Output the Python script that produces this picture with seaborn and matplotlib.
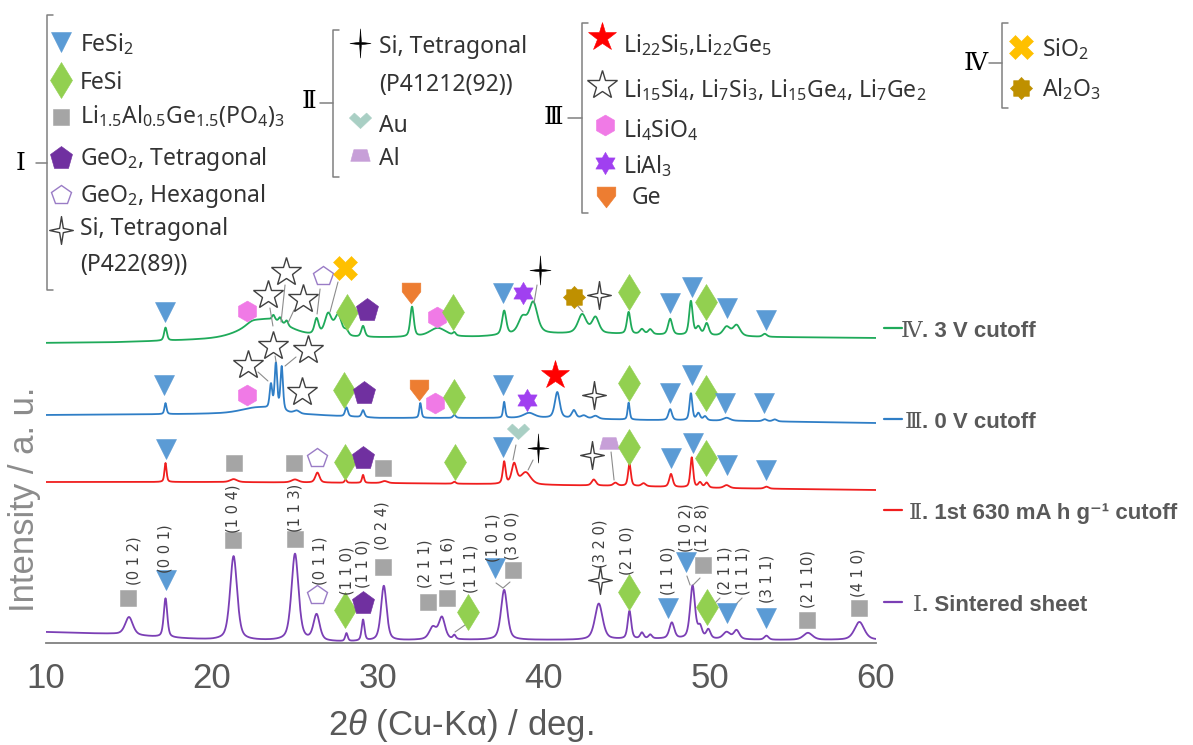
import numpy as np
import pandas as pd
import matplotlib
matplotlib.use("Agg")
import matplotlib.pyplot as plt
from matplotlib.path import Path
import seaborn as sns

# ---------------------------------------------------------------------------
# XRD patterns: peak tables (2θ / deg, height / a.u., FWHM / deg) and
# background knots (2θ / deg, level / a.u.)
# ---------------------------------------------------------------------------
sample_names = ["I", "II", "III", "IV"]

# I. sintered sheet
sintered_peak_pos = [15.0, 17.2, 21.3, 25.0, 26.3, 28.1, 29.1, 30.35, 33.3, 33.85, 34.6, 37.6,
                     43.3, 45.15, 45.9, 46.4, 47.7, 48.95, 49.4, 49.9, 51.0, 51.6, 53.4, 55.9, 59.0]
sintered_peak_height = [18, 39, 84, 87, 26, 8, 21, 55, 12, 22, 4, 50,
                        36, 28, 6, 4, 16, 53, 11, 9, 7, 9, 4, 7, 18]
sintered_peak_fwhm = [0.55, 0.25, 0.5, 0.5, 0.45, 0.18, 0.2, 0.4, 0.5, 0.45, 0.2, 0.45,
                      0.55, 0.25, 0.25, 0.25, 0.35, 0.35, 0.3, 0.3, 0.5, 0.4, 0.3, 0.65, 0.7]
sintered_bg_pos = [10, 14, 17, 20, 28, 33, 37, 42, 47, 54, 60]
sintered_bg_level = [11, 9, 5.5, 3, 1, 3, 3, 3, 4, 3, 3]

# II. 1st discharge to 630 mA h g-1
partial_peak_pos = [17.2, 21.3, 25.0, 26.35, 28.05, 29.1, 30.4, 34.6, 37.6, 38.2, 38.9, 43.0,
                    44.3, 45.15, 46.0, 47.65, 48.9, 49.4, 49.8, 51.0, 53.4]
partial_peak_height = [19, 3, 3, 10, 3, 8, 2, 2, 22, 20, 12, 6,
                       3, 22, 3, 13, 30, 5, 5, 3, 2]
partial_peak_fwhm = [0.15, 0.5, 0.5, 0.3, 0.15, 0.15, 0.4, 0.2, 0.2, 0.35, 0.7, 0.3,
                     0.3, 0.2, 0.3, 0.25, 0.2, 0.25, 0.25, 0.4, 0.3]
partial_bg_pos = [10, 20, 30, 36, 40, 45, 50, 55, 60]
partial_bg_level = [8, 8, 7, 6, 5, 4, 2, 1, 0]

# III. discharged to 0 V
lithiated_peak_pos = [17.2, 22.8, 23.55, 23.85, 24.2, 25.1, 28.1, 29.1, 32.55, 34.6, 37.6, 39.1,
                      40.8, 41.8, 42.4, 43.1, 45.1, 47.6, 48.85, 49.3, 49.7, 51.0, 53.3, 53.9]
lithiated_peak_height = [11, 7, 24, 46, 44, 3, 9, 7, 15, 3, 16, 5,
                         26, 8, 3, 3, 17, 11, 27, 7, 4, 3, 2, 2]
lithiated_peak_fwhm = [0.15, 2.5, 0.18, 0.18, 0.18, 0.4, 0.2, 0.2, 0.15, 0.2, 0.15, 0.8,
                       0.35, 0.3, 0.4, 0.4, 0.15, 0.25, 0.2, 0.25, 0.25, 0.5, 0.3, 0.3]
lithiated_bg_pos = [10, 20, 26, 30, 40, 46, 52, 60]
lithiated_bg_level = [8, 9, 8, 5, 5, 3, 2, 0]

# IV. charged to 3 V
charged_peak_pos = [17.2, 22.4, 23.3, 23.7, 24.1, 24.5, 26.3, 27.0, 27.6, 28.1, 29.1, 32.05,
                    33.6, 34.6, 37.6, 38.7, 39.35, 42.3, 43.1, 45.1, 45.9, 46.4, 47.6, 48.85,
                    49.3, 49.8, 51.0, 51.6, 53.3]
charged_peak_height = [13, 3, 20, 5, 5, 5, 16, 22, 21, 5, 11, 30,
                       9, 3, 24, 16, 31, 19, 16, 22, 5, 5, 16, 34,
                       8, 12, 9, 11, 3]
charged_peak_fwhm = [0.2, 0.8, 3.2, 0.2, 0.2, 0.2, 0.3, 0.5, 0.5, 0.3, 0.25, 0.25,
                     1.2, 0.2, 0.3, 0.6, 0.6, 0.6, 0.5, 0.25, 0.3, 0.3, 0.3, 0.25,
                     0.3, 0.3, 0.5, 0.5, 0.3]
charged_bg_pos = [10, 14, 19, 25, 30, 36, 40, 44, 47, 53, 60]
charged_bg_level = [0, 0.5, 2.5, 4, 5, 6, 9, 9, 8, 6, 5]

x_ticks = [10, 20, 30, 40, 50, 60]

trace_labels = ["Ⅰ", "Ⅱ", "Ⅲ", "Ⅳ"]
trace_texts = [". Sintered sheet", ". 1st 630 mA h g⁻¹ cutoff", ". 0 V cutoff", ". 3 V cutoff"]

# ---------------------------------------------------------------------------
# phase markers (phase, 2θ, intensity) for each pattern
# ---------------------------------------------------------------------------
marks_IV = [("FeSi2", 17.17, 331), ("Li4SiO4", 22.11, 332), ("LiSi", 23.37, 348),
            ("LiSi", 24.46, 371), ("LiSi", 25.48, 344), ("GeO2_hex", 26.69, 367),
            ("SiO2", 28.01, 375), ("FeSi", 28.13, 331), ("GeO2_tet", 29.34, 333),
            ("Ge", 31.99, 350), ("Li4SiO4", 33.55, 326), ("FeSi", 34.52, 331),
            ("FeSi2", 37.53, 350), ("LiAl3", 38.73, 350), ("Si_92", 39.76, 373),
            ("Al2O3", 41.81, 346), ("Si_89", 43.31, 348), ("FeSi", 45.12, 351),
            ("FeSi2", 47.59, 340), ("FeSi2", 48.92, 356), ("FeSi", 49.76, 341),
            ("FeSi2", 51.02, 335), ("FeSi2", 53.37, 323)]
leaders_IV = [((23.49, 335), (23.67, 317)), ((24.40, 358), (24.16, 321)),
              ((24.94, 333), (24.58, 320)), ((26.51, 354), (26.33, 329)),
              ((27.59, 361), (27.11, 331)), ((39.58, 358), (39.40, 340)),
              ((41.99, 338), (42.35, 331))]

marks_III = [("FeSi2", 17.11, 258), ("Li4SiO4", 22.11, 248), ("LiSi", 22.17, 278),
             ("LiSi", 23.67, 297), ("LiSi", 25.78, 293), ("LiSi", 25.42, 251),
             ("FeSi", 27.95, 253), ("GeO2_tet", 29.16, 250), ("Ge", 32.47, 253),
             ("Li4SiO4", 33.43, 240), ("FeSi", 34.58, 246), ("FeSi2", 37.53, 258),
             ("LiAl3", 38.98, 243), ("Li22", 40.66, 268), ("Si_89", 43.01, 248),
             ("FeSi", 45.12, 260), ("FeSi2", 47.59, 250), ("FeSi2", 48.92, 268),
             ("FeSi", 49.76, 250), ("FeSi2", 50.90, 240), ("FeSi2", 53.25, 240)]
leaders_III = [((22.77, 271), (23.37, 262)), ((23.80, 287), (23.86, 281)),
               ((25.06, 286), (24.40, 277))]

marks_II = [("FeSi2", 17.23, 194), ("LAGP", 21.33, 180), ("LAGP", 24.94, 180),
            ("GeO2_hex", 26.33, 185), ("FeSi", 28.01, 181), ("GeO2_tet", 29.10, 185),
            ("LAGP", 30.30, 175), ("FeSi", 34.64, 181), ("FeSi2", 37.53, 196),
            ("Au", 38.43, 210), ("Si_92", 39.64, 195), ("Si_89", 42.89, 188),
            ("Al", 43.92, 200), ("FeSi", 45.12, 196), ("FeSi2", 47.65, 185),
            ("FeSi2", 48.98, 200), ("FeSi", 49.76, 185), ("FeSi2", 51.02, 178),
            ("FeSi2", 53.37, 173)]
leaders_II = [((38.31, 198), (38.13, 183)), ((39.34, 183), (39.04, 173)),
              ((44.04, 191), (44.22, 163))]

marks_I = [("LAGP", 14.94, 45), ("FeSi2", 17.23, 63), ("LAGP", 21.27, 103),
           ("LAGP", 25.00, 104), ("GeO2_hex", 26.33, 48), ("FeSi", 28.01, 33),
           ("GeO2_tet", 29.10, 40), ("LAGP", 30.30, 76), ("LAGP", 33.01, 41),
           ("LAGP", 34.16, 45), ("FeSi", 35.42, 31), ("FeSi2", 37.05, 75),
           ("LAGP", 38.13, 73), ("Si_89", 43.37, 63), ("FeSi", 45.12, 51),
           ("FeSi2", 47.47, 35), ("FeSi2", 48.55, 81), ("LAGP", 49.58, 78),
           ("FeSi", 49.82, 36), ("FeSi2", 51.02, 30), ("FeSi2", 53.37, 25),
           ("LAGP", 55.84, 23), ("LAGP", 58.98, 35)]
hkl_I = [("(0 1 2)", 15.30, 58), ("(0 0 1)", 17.17, 70), ("(1 0 4)", 21.27, 110),
         ("(1 1 3)", 25.00, 111), ("(0 1 1)", 26.51, 58), ("(1 1 0)", 28.13, 48),
         ("(1 1 0)", 29.10, 55), ("(0 2 4)", 30.24, 93), ("(2 1 1)", 32.83, 55),
         ("(1 1 6)", 34.22, 58), ("(1 1 1)", 35.60, 50), ("(1 0 1)", 36.93, 81),
         ("(3 0 0)", 38.07, 83), ("(3 2 0)", 43.37, 75), ("(2 1 0)", 45.00, 68),
         ("(1 1 0)", 47.47, 48), ("(1 0 2)", 48.55, 91), ("(1 2 8)", 49.52, 91),
         ("(2 1 1)", 50.90, 48), ("(1 1 1)", 51.99, 48), ("(3 1 1)", 53.43, 40),
         ("(2 1 10)", 55.90, 35), ("(4 1 0)", 58.92, 46)]
leaders_I = [((35.24, 18), (34.64, 11)), ((37.11, 60), (37.53, 55)),
             ((37.95, 61), (37.53, 55)), ((48.61, 67), (48.80, 58)),
             ((49.40, 65), (48.98, 58)), ((50.60, 45), (50.12, 37)),
             ((51.93, 45), (51.39, 36))]


# ---------------------------------------------------------------------------
# helpers
# ---------------------------------------------------------------------------
def profile(grid, pos, height, fwhm, bg_pos, bg_level):
    """Pseudo-Voigt peaks on a piecewise background."""
    y = np.interp(grid, bg_pos, bg_level).astype(float)
    for c, h, w in zip(pos, height, fwhm):
        u = (grid - c) / w
        y += h * (0.5 * np.exp(-4 * np.log(2) * u ** 2) + 0.5 / (1 + 4 * u ** 2))
    return y


def star_path(n, inner, sx=1.0, sy=1.0, rot=90.0):
    verts = []
    for i in range(2 * n):
        r = 1.0 if i % 2 == 0 else inner
        a = np.deg2rad(rot + i * 180.0 / n)
        verts.append((sx * r * np.cos(a), sy * r * np.sin(a)))
    verts.append(verts[0])
    return Path(verts, closed=True)


def poly_path(verts):
    verts = list(verts) + [verts[0]]
    return Path(verts, closed=True)


four_star_open = star_path(4, 0.22, sx=0.85)
four_star_solid = star_path(4, 0.12, sx=0.72)
six_star = star_path(6, 0.58)
burst = star_path(8, 0.76)
shield = poly_path([(-0.85, 0.95), (0.85, 0.95), (0.85, 0.15), (0.0, -0.95), (-0.85, 0.15)])
chevron = poly_path([(-1.0, 0.4), (-0.55, 0.85), (0.0, 0.35), (0.55, 0.85), (1.0, 0.4), (0.0, -0.55)])
trapezoid = poly_path([(-1.0, -0.6), (1.0, -0.6), (0.68, 0.6), (-0.68, 0.6)])

STYLE = {
    "FeSi2": dict(marker="v", ms=15, color="#5b9bd5"),
    "FeSi": dict(marker="d", ms=18, color="#92d050"),
    "LAGP": dict(marker="s", ms=12, color="#a5a5a5"),
    "GeO2_tet": dict(marker="p", ms=17, color="#7030a0"),
    "GeO2_hex": dict(marker="p", ms=15, color="#9a7cc6", hollow=True),
    "Si_89": dict(marker=four_star_open, ms=20, color="#404040", hollow=True),
    "Si_92": dict(marker=four_star_solid, ms=21, color="#000000"),
    "Au": dict(marker=chevron, ms=16, color="#a9cfc4"),
    "Al": dict(marker=trapezoid, ms=14, color="#c79fd8"),
    "Li22": dict(marker="*", ms=21, color="#ff0000"),
    "LiSi": dict(marker="*", ms=22, color="#404040", hollow=True),
    "Li4SiO4": dict(marker="h", ms=15, color="#f07ae6"),
    "LiAl3": dict(marker=six_star, ms=16, color="#a040f0"),
    "Ge": dict(marker=shield, ms=15, color="#ed7d31"),
    "SiO2": dict(marker="X", ms=17, color="#ffc000"),
    "Al2O3": dict(marker=burst, ms=16, color="#bf9000"),
}


def draw_mark(axes, key, x, y):
    st = STYLE[key]
    if st.get("hollow"):
        axes.plot([x], [y], ls="none", marker=st["marker"], ms=st["ms"], mfc="white",
                  mec=st["color"], mew=1.0, clip_on=False, zorder=6)
    else:
        axes.plot([x], [y], ls="none", marker=st["marker"], ms=st["ms"], mfc=st["color"],
                  mec=st["color"], mew=0.4, clip_on=False, zorder=6)


def draw_leaders(axes, segments):
    for (x0, y0), (x1, y1) in segments:
        axes.plot([x0, x1], [y0, y1], color="#8c8c8c", lw=0.8, clip_on=False, zorder=4)


# ---------------------------------------------------------------------------
# figure
# ---------------------------------------------------------------------------
sns.set_style("white")
plt.rcParams["font.family"] = ["Liberation Sans", "DejaVu Sans"]
plt.rcParams["mathtext.fontset"] = "custom"
plt.rcParams["mathtext.rm"] = "Noto Sans"
plt.rcParams["mathtext.it"] = "Liberation Sans:italic"
plt.rcParams["mathtext.bf"] = "Noto Sans:bold"

W, H = 1193, 745
fig = plt.figure(figsize=(W / 100, H / 100), dpi=100)
ax = fig.add_axes([46 / W, 102 / H, 830 / W, 400 / H])

grid = np.linspace(10, 60, 2501)
offsets = {"I": 0, "II": 153, "III": 220, "IV": 300}
tables = {
    "I": (sintered_peak_pos, sintered_peak_height, sintered_peak_fwhm, sintered_bg_pos, sintered_bg_level),
    "II": (partial_peak_pos, partial_peak_height, partial_peak_fwhm, partial_bg_pos, partial_bg_level),
    "III": (lithiated_peak_pos, lithiated_peak_height, lithiated_peak_fwhm, lithiated_bg_pos, lithiated_bg_level),
    "IV": (charged_peak_pos, charged_peak_height, charged_peak_fwhm, charged_bg_pos, charged_bg_level),
}
frames = []
for name in sample_names:
    inten = profile(grid, *tables[name]) + offsets[name]
    frames.append(pd.DataFrame({"two_theta": grid, "intensity": inten, "sample": name}))
df = pd.concat(frames, ignore_index=True)

palette = {"I": "#7b3fb5", "II": "#f01e1e", "III": "#2f7ec6", "IV": "#1faa5a"}
sns.lineplot(data=df, x="two_theta", y="intensity", hue="sample", palette=palette,
             estimator=None, sort=False, lw=1.3, legend=False, ax=ax, zorder=3)

for marks in (marks_I, marks_II, marks_III, marks_IV):
    for key, x, y in marks:
        draw_mark(ax, key, x, y)
for segs in (leaders_I, leaders_II, leaders_III, leaders_IV):
    draw_leaders(ax, segs)
for text, x, y in hkl_I:
    ax.text(x, y, text, rotation=90, ha="center", va="bottom", fontsize=10.5,
            color="#404040", family="DejaVu Sans", zorder=7, clip_on=False)

ax.set_xlim(10, 60)
ax.set_ylim(0, 400)
ax.set_xticks(x_ticks)
ax.set_yticks([])
for side in ("left", "top", "right"):
    ax.spines[side].set_visible(False)
ax.spines["bottom"].set_color("#808080")
ax.spines["bottom"].set_linewidth(1.3)
ax.tick_params(axis="x", direction="in", length=7, width=1.2, color="#808080",
               labelsize=25, labelcolor="#595959", pad=14)
ax.set_xlabel(r"2$\theta$ (Cu-Kα) / deg.", fontsize=25, color="#595959")
ax.xaxis.set_label_coords(0.5, -0.16)
ax.set_ylabel("Intensity / a. u.", fontsize=25, color="#8c8c8c")
ax.yaxis.set_label_coords(-0.006, 0.358)
ax.patch.set_alpha(0)

# ---------------------------------------------------------------------------
# phase key (pixel coordinates) and trace names
# ---------------------------------------------------------------------------
ov = fig.add_axes([0, 0, 1, 1])
ov.set_xlim(0, W)
ov.set_ylim(H, 0)
ov.axis("off")

key_font = dict(fontsize=16.5, color="#333333", family="Noto Sans", va="baseline", ha="left")
roman_font = dict(fontsize=18, color="#000000", family=["DejaVu Serif", "DejaVu Sans"],
                  ha="center", va="center")


def bracket(xb, y0, y1, ymid, x_left):
    ov.plot([xb + 6, xb, xb, xb + 6], [y0, y0, y1, y1], color="#808080", lw=1.1)
    ov.plot([x_left, xb], [ymid, ymid], color="#808080", lw=1.1)


# group I
bracket(47, 15, 290, 163, 36)
ov.text(21, 163, "Ⅰ", **roman_font)
group_I = [("FeSi2", 42, "FeSi$_2$", 51), ("FeSi", 80, "FeSi", 89),
           ("LAGP", 117, "Li$_{1.5}$Al$_{0.5}$Ge$_{1.5}$(PO$_4$)$_3$", 123),
           ("GeO2_tet", 158, "GeO$_2$, Tetragonal", 165),
           ("GeO2_hex", 195, "GeO$_2$, Hexagonal", 202),
           ("Si_89", 230, "Si, Tetragonal", 235)]
for key, my, label, by in group_I:
    draw_mark(ov, key, 61, my)
    ov.text(80, by, label, **key_font)
ov.text(80, 271, "(P422(89))", **key_font)

# group II
bracket(333, 30, 177, 103, 320)
ov.text(309, 102, "Ⅱ", **roman_font)
group_II = [("Si_92", 43, "Si, Tetragonal", 53), ("Au", 122, "Au", 132), ("Al", 155, "Al", 165)]
for key, my, label, by in group_II:
    draw_mark(ov, key, 360, my)
    ov.text(379, by, label, **key_font)
ov.text(379, 91, "(P41212(92))", **key_font)

# group III
bracket(582, 23, 213, 118, 568)
ov.text(553, 118, "Ⅲ", **roman_font)
group_III = [("Li22", 602, 37, "Li$_{22}$Si$_5$,Li$_{22}$Ge$_5$", 623, 52),
             ("LiSi", 602, 85, "Li$_{15}$Si$_4$, Li$_7$Si$_3$, Li$_{15}$Ge$_4$, Li$_7$Ge$_2$", 623, 97),
             ("Li4SiO4", 605, 125, "Li$_4$SiO$_4$", 623, 137),
             ("LiAl3", 605, 163, "LiAl$_3$", 623, 173),
             ("Ge", 606, 197, "Ge", 632, 204)]
for key, mx, my, label, tx, by in group_III:
    draw_mark(ov, key, mx, my)
    ov.text(tx, by, label, **key_font)

# group IV
bracket(1002, 23, 108, 63, 989)
ov.text(976, 63, "Ⅳ", **roman_font)
group_IV = [("SiO2", 47, "SiO$_2$", 56), ("Al2O3", 88, "Al$_2$O$_3$", 96)]
for key, my, label, by in group_IV:
    draw_mark(ov, key, 1021, my)
    ov.text(1042, by, label, **key_font)

# trace names
trace_rows = {"IV": 329, "III": 420, "II": 511, "I": 603}
for name, numeral, text in zip(sample_names, trace_labels, trace_texts):
    yc = trace_rows[name]
    ov.plot([884, 902], [yc - 1, yc - 1], color=palette[name], lw=1.6)
    ov.text(922, yc + 8, numeral, fontsize=16, color="#595959",
            family=["DejaVu Serif", "DejaVu Sans"], ha="right", va="baseline")
    ov.text(922, yc + 8, text, fontsize=16, color="#595959", fontweight="bold",
            family=["Liberation Sans", "DejaVu Sans"], ha="left", va="baseline")

fig.savefig("out.png", dpi=100)
